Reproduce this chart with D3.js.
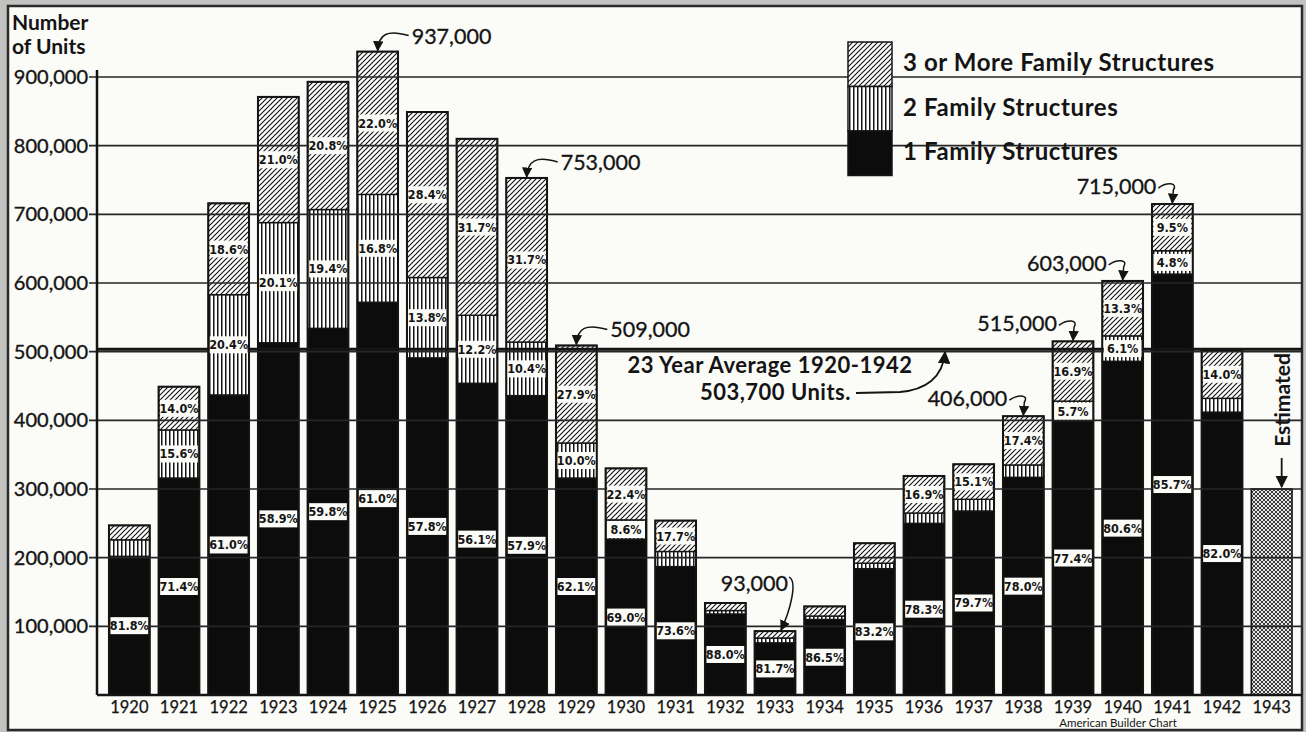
<!DOCTYPE html>
<html lang="en">
<head>
<meta charset="UTF-8" />
<title>Dwelling units 1920-1943</title>
<script src="https://d3js.org/d3.v7.min.js"></script>
<style>
  body { margin: 0; background: #c2c2c0; }
  svg { display: block; }
  text { font-family: Lato, "DejaVu Sans", sans-serif; fill: #141414; }
  .pct { font-family: "DejaVu Sans Condensed", "DejaVu Sans", sans-serif; font-size: 12.5px; font-weight: bold; }
</style>
</head>
<body>
<div id="chart"></div>
<script>
// values in thousands of units
var years = ["1920","1921","1922","1923","1924","1925","1926","1927","1928","1929","1930","1931",
             "1932","1933","1934","1935","1936","1937","1938","1939","1940","1941","1942","1943"];
var oneFamily   = [202,316,437,513,534,572,491,454,436,316,227,187,118,76,110,184,250,268,317,399,486,613,412,0];
var twoFamily   = [24,70,146,175,173,157,117,99,78,51,28,22,5,7,5,8,15,17,18,29,37,34,20,0];
var threeFamily = [21,63,133,183,186,208,241,257,239,142,75,45,11,10,14,29,54,51,71,87,80,68,70,0];
var estimated   = [0,0,0,0,0,0,0,0,0,0,0,0,0,0,0,0,0,0,0,0,0,0,0,300];

// percentage labels printed on the bars (null = not printed)
var pctOne   = ["81.8%","71.4%","61.0%","58.9%","59.8%","61.0%","57.8%","56.1%","57.9%","62.1%","69.0%","73.6%",
                "88.0%","81.7%","86.5%","83.2%","78.3%","79.7%","78.0%","77.4%","80.6%","85.7%","82.0%",null];
var pctTwo   = [null,"15.6%","20.4%","20.1%","19.4%","16.8%","13.8%","12.2%","10.4%","10.0%","8.6%",null,
                null,null,null,null,null,null,null,"5.7%","6.1%","4.8%",null,null];
var pctThree = [null,"14.0%","18.6%","21.0%","20.8%","22.0%","28.4%","31.7%","31.7%","27.9%","22.4%","17.7%",
                null,null,null,null,"16.9%","15.1%","17.4%","16.9%","13.3%","9.5%","14.0%",null];

var yTicks = [100000,200000,300000,400000,500000,600000,700000,800000,900000];
var average = 503700;
var calloutYears = ["1925","1928","1929","1933","1938","1939","1940","1941"];

var W = 1306, H = 732;
var svg = d3.select("#chart").append("svg").attr("width", W).attr("height", H);
var defs = svg.append("defs");

// hatch patterns
var p3 = defs.append("pattern").attr("id", "diag").attr("patternUnits", "userSpaceOnUse")
  .attr("width", 5).attr("height", 5);
p3.append("rect").attr("width", 5).attr("height", 5).attr("fill", "#fff");
p3.append("path").attr("d", "M-1,1 l2,-2 M0,5 l5,-5 M4,6 l2,-2")
  .attr("stroke", "#161616").attr("stroke-width", 1.2);

var p2 = defs.append("pattern").attr("id", "vert").attr("patternUnits", "userSpaceOnUse")
  .attr("width", 4).attr("height", 4);
p2.append("rect").attr("width", 4).attr("height", 4).attr("fill", "#fff");
p2.append("rect").attr("x", 1).attr("width", 1.5).attr("height", 4).attr("fill", "#161616");

var pc = defs.append("pattern").attr("id", "cross").attr("patternUnits", "userSpaceOnUse")
  .attr("width", 4).attr("height", 4);
pc.append("rect").attr("width", 4).attr("height", 4).attr("fill", "#e8e8e8");
pc.append("path").attr("d", "M0,0 L4,4 M4,0 L0,4").attr("stroke", "#3a3a3a").attr("stroke-width", 1);

defs.append("marker").attr("id", "arr").attr("viewBox", "0 0 10 10")
  .attr("refX", 9).attr("refY", 5).attr("markerWidth", 7).attr("markerHeight", 7)
  .attr("orient", "auto-start-reverse")
  .append("path").attr("d", "M0,0 L10,5 L0,10 z").attr("fill", "#141414");

// paper frame
svg.append("rect").attr("x", 8).attr("y", 6).attr("width", 1294).attr("height", 724)
  .attr("fill", "#fbfbf8").attr("stroke", "#2a2a2a").attr("stroke-width", 2.5);

// scales
var x = d3.scaleBand().domain(years).range([103, 1298]).paddingInner(0.18).paddingOuter(0.12);
var y = d3.scaleLinear().domain([0, 900000]).range([695, 77]);
var axisX = 97, rightX = 1302;

var rows = years.map(function(yr, i) {
  return { year: yr, one: oneFamily[i] * 1000, two: twoFamily[i] * 1000, three: threeFamily[i] * 1000,
           est: estimated[i] * 1000, p1: pctOne[i], p2: pctTwo[i], p3: pctThree[i] };
});
var stack = d3.stack().keys(["one", "two", "three"])(rows);
var fills = { one: "#0c0c0c", two: "url(#vert)", three: "url(#diag)" };

// bars
var gBars = svg.append("g");
stack.forEach(function(layer) {
  gBars.selectAll(null).data(layer.filter(function(d) { return d[1] > d[0]; })).enter()
    .append("rect")
    .attr("x", function(d) { return x(d.data.year); })
    .attr("width", x.bandwidth())
    .attr("y", function(d) { return y(d[1]); })
    .attr("height", function(d) { return y(d[0]) - y(d[1]); })
    .attr("fill", fills[layer.key])
    .attr("stroke", "#141414").attr("stroke-width", 1.4);
});
gBars.selectAll(null).data(rows.filter(function(d) { return d.est > 0; })).enter()
  .append("rect")
  .attr("x", function(d) { return x(d.year); })
  .attr("width", x.bandwidth())
  .attr("y", function(d) { return y(d.est); })
  .attr("height", function(d) { return y(0) - y(d.est); })
  .attr("fill", "url(#cross)").attr("stroke", "#141414").attr("stroke-width", 1.6);
// outer bar outline
gBars.selectAll(null).data(rows.filter(function(d) { return d.one > 0; })).enter()
  .append("rect")
  .attr("x", function(d) { return x(d.year); })
  .attr("width", x.bandwidth())
  .attr("y", function(d) { return y(d.one + d.two + d.three); })
  .attr("height", function(d) { return y(0) - y(d.one + d.two + d.three); })
  .attr("fill", "none").attr("stroke", "#141414").attr("stroke-width", 2);

// grid lines over the bars
svg.append("g").selectAll("line").data(yTicks).enter().append("line")
  .attr("x1", axisX - 8).attr("x2", rightX)
  .attr("y1", function(d) { return y(d); }).attr("y2", function(d) { return y(d); })
  .attr("stroke", "#262626").attr("stroke-width", 1.6);
svg.append("line").attr("x1", axisX).attr("x2", rightX).attr("y1", y(0)).attr("y2", y(0))
  .attr("stroke", "#141414").attr("stroke-width", 2.5);
svg.append("line").attr("x1", axisX).attr("x2", axisX).attr("y1", y(0)).attr("y2", 70)
  .attr("stroke", "#141414").attr("stroke-width", 2.5);
// average line
svg.append("line").attr("x1", axisX).attr("x2", rightX).attr("y1", y(average)).attr("y2", y(average))
  .attr("stroke", "#141414").attr("stroke-width", 3);

// y labels
svg.append("g").selectAll("text").data(yTicks).enter().append("text")
  .attr("x", 88).attr("y", function(d) { return y(d) + 7; })
  .attr("text-anchor", "end").attr("font-size", 20)
  .attr("stroke", "#141414").attr("stroke-width", 0.35)
  .text(function(d) { return d3.format(",")(d); });
svg.append("text").attr("x", 12).attr("y", 30).attr("font-size", 21).attr("font-weight", "bold").text("Number");
svg.append("text").attr("x", 12).attr("y", 54).attr("font-size", 21).attr("font-weight", "bold").text("of Units");

// year labels
svg.append("g").selectAll("text").data(years).enter().append("text")
  .attr("x", function(d) { return x(d) + x.bandwidth() / 2; }).attr("y", 713)
  .attr("text-anchor", "middle").attr("font-size", 16.5)
  .attr("stroke", "#141414").attr("stroke-width", 0.25)
  .text(function(d) { return d; });
svg.append("text").attr("x", 1118).attr("y", 727).attr("text-anchor", "middle").attr("font-size", 11.5)
  .text("American Builder Chart");

// percentage boxes
function pctLabel(key, lo, hi) {
  var list = rows.filter(function(d) { return d[key]; });
  var g = svg.append("g").selectAll("g").data(list).enter().append("g")
    .attr("transform", function(d) {
      return "translate(" + (x(d.year) + x.bandwidth() / 2) + "," + y((lo(d) + hi(d)) / 2) + ")";
    });
  g.append("rect").attr("x", -x.bandwidth() / 2 + 1.5).attr("y", -8.5)
    .attr("width", x.bandwidth() - 3).attr("height", 17).attr("fill", "#fbfbf8");
  g.append("text").attr("class", "pct").attr("y", 4.5).attr("text-anchor", "middle")
    .text(function(d) { return d[key]; });
}
pctLabel("p1", function(d) { return 0; }, function(d) { return d.one; });
pctLabel("p2", function(d) { return d.one; }, function(d) { return d.one + d.two; });
pctLabel("p3", function(d) { return d.one + d.two; }, function(d) { return d.one + d.two + d.three; });

// total callouts
var gC = svg.append("g");
calloutYears.forEach(function(yr) {
  var d = rows[years.indexOf(yr)];
  var total = d.one + d.two + d.three;
  var cx = x(yr) + x.bandwidth() / 2, top = y(total);
  var lbl = d3.format(",")(total), tx, ty, path, anchor;
  if (+yr < 1930) {
    tx = cx + 34; ty = top - 8; anchor = "start";
    path = "M" + (tx - 3) + "," + (ty - 8) + " C" + (cx + 10) + "," + (ty - 14) + " " + (cx + 1) + "," + (ty - 10) + " " + cx + "," + (top - 1);
  } else if (total < 150000) {
    tx = cx + 13; ty = top - 40; anchor = "end";
    path = "M" + (tx + 1) + "," + (ty - 14) + " C" + (tx + 10) + "," + (ty - 10) + " " + (tx + 2) + "," + (top - 20) + " " + (cx + 6) + "," + (top - 1);
  } else {
    tx = cx - 16; ty = top - 10; anchor = "end";
    path = "M" + (tx + 2) + "," + (ty - 6) + " C" + (cx - 6) + "," + (ty - 12) + " " + (cx + 6) + "," + (ty - 12) + " " + (cx + 1) + "," + (ty - 4) + " L" + cx + "," + (top - 1);
  }
  gC.append("text").attr("x", tx).attr("y", ty).attr("text-anchor", anchor).attr("font-size", 21.5)
    .attr("stroke", "#141414").attr("stroke-width", 0.3).text(lbl);
  gC.append("path").attr("d", path).attr("fill", "none").attr("stroke", "#141414")
    .attr("stroke-width", 1.5).attr("marker-end", "url(#arr)");
});

// average annotation
svg.append("text").attr("x", 770).attr("y", 373).attr("text-anchor", "middle")
  .attr("font-size", 22).attr("letter-spacing", 0.5).attr("font-weight", "bold").text("23 Year Average 1920-1942");
svg.append("text").attr("x", 851).attr("y", 400).attr("text-anchor", "end")
  .attr("font-size", 22).attr("letter-spacing", 0.5).attr("font-weight", "bold").text("503,700 Units.");
svg.append("path")
  .attr("d", "M856,393 L900,392 C925,390 943,378 945," + (y(average) + 3))
  .attr("fill", "none").attr("stroke", "#141414").attr("stroke-width", 1.8).attr("marker-end", "url(#arr)");

// estimated note
var ex = x("1943") + x.bandwidth() / 2 + 10;
svg.append("text").attr("transform", "translate(" + (ex + 8) + ",400) rotate(-90)")
  .attr("text-anchor", "middle").attr("font-size", 21).attr("font-weight", "bold").text("Estimated");
svg.append("path").attr("d", "M" + ex + ",458 L" + ex + "," + (y(300000) - 2))
  .attr("stroke", "#141414").attr("stroke-width", 1.8).attr("marker-end", "url(#arr)");

// legend
var legend = [
  { label: "3 or More Family Structures", fill: "url(#diag)" },
  { label: "2 Family Structures", fill: "url(#vert)" },
  { label: "1 Family Structures", fill: "#0c0c0c" }
];
var lg = svg.append("g").selectAll("g").data(legend).enter().append("g")
  .attr("transform", function(d, i) { return "translate(848," + (42 + i * 44.5) + ")"; });
lg.append("rect").attr("width", 44).attr("height", 44.5)
  .attr("fill", function(d) { return d.fill; }).attr("stroke", "#141414").attr("stroke-width", 1.5);
lg.append("text").attr("x", 55).attr("y", 29).attr("font-size", 24).attr("letter-spacing", 0.6)
  .attr("font-weight", "bold")
  .text(function(d) { return d.label; });
</script>
</body>
</html>
